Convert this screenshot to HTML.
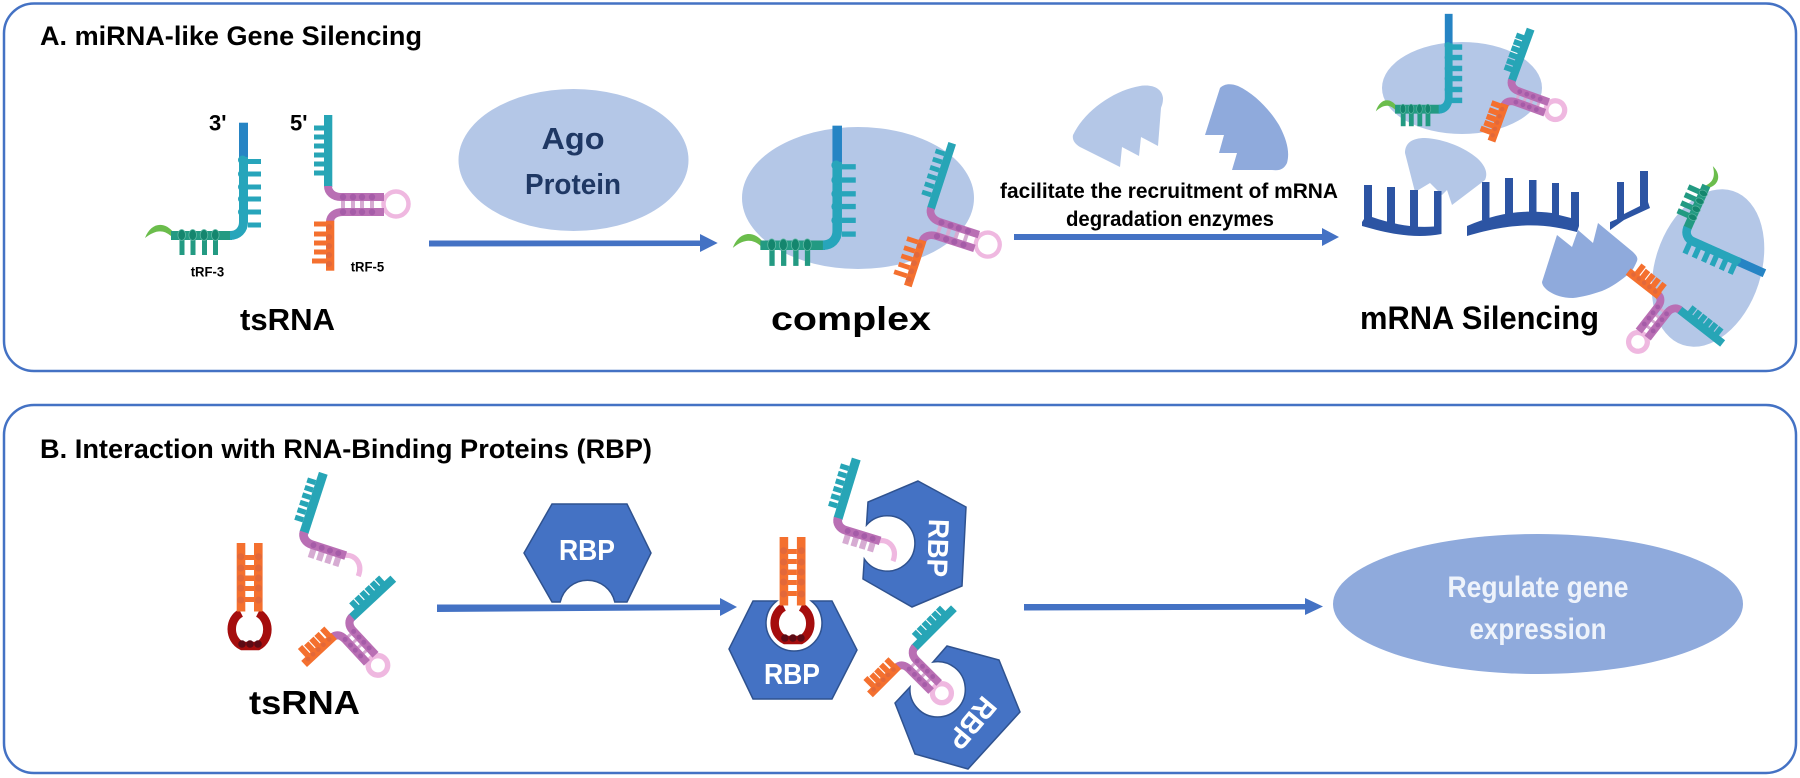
<!DOCTYPE html>
<html><head><meta charset="utf-8"><style>
html,body{margin:0;padding:0;background:#fff}
svg{display:block}
text{font-family:"Liberation Sans",sans-serif;font-weight:bold}
.r{stroke-width:var(--t,0)}
</style></head><body>
<svg width="1800" height="778" viewBox="0 0 1800 778" xmlns="http://www.w3.org/2000/svg">
<defs>
<g id="rf3">
<path d="M145 238C151 222 165 221 174 233L171 236C163 229 155 230 145 238Z" fill="#6bbd4c"/>
<path d="M171 235.5H232" stroke="#239a82" style="stroke-width:calc(9px + var(--t,0px))" fill="none"/>
<g fill="#239a82" stroke="#239a82" class="r"><rect x="179.5" y="240" width="5" height="15"/><rect x="190.5" y="240" width="5" height="15"/><rect x="202" y="240" width="5" height="15"/><rect x="213" y="240" width="5" height="15"/></g>
<g fill="#14866e" stroke="#5fb8a4" stroke-width=".8"><ellipse cx="181.7" cy="235" rx="3.8" ry="5.5"/><ellipse cx="192.7" cy="235" rx="3.8" ry="5.5"/><ellipse cx="204" cy="235" rx="3.8" ry="5.5"/><ellipse cx="215.3" cy="235" rx="3.8" ry="5.5"/></g>
<rect x="239" y="122.7" width="9" height="36" fill="#2684c4" stroke="#2684c4" class="r"/>
<path d="M230 235.5C238 235.5 243.5 230 243.5 222V157" stroke="#27a5bb" style="stroke-width:calc(9px + var(--t,0px))" fill="none"/>
<g fill="#27a5bb" stroke="#27a5bb" class="r"><rect x="248" y="159" width="13" height="5"/><rect x="248" y="171.5" width="13" height="5"/><rect x="248" y="184.5" width="13" height="5"/><rect x="248" y="196.5" width="13" height="5"/><rect x="248" y="209.5" width="13" height="5"/><rect x="248" y="222.5" width="13" height="5"/></g>
<g fill="#27a5bb"><circle cx="242.5" cy="160" r="4.5"/><circle cx="242.5" cy="174" r="4.5"/><circle cx="242.5" cy="187" r="4.5"/><circle cx="242.5" cy="199" r="4.5"/><circle cx="242.5" cy="212" r="4.5"/></g>
</g>
<g id="rf5">
<rect x="324" y="115" width="8.3" height="72" fill="#27a5b6" stroke="#27a5b6" class="r"/>
<g fill="#27a5b6" stroke="#27a5b6" class="r"><rect x="314" y="125.5" width="10" height="5"/><rect x="314" y="134.5" width="10" height="5"/><rect x="314" y="143.5" width="10" height="5"/><rect x="314" y="152.5" width="10" height="5"/><rect x="314" y="161.5" width="10" height="5"/><rect x="314" y="170.5" width="10" height="5"/></g>
<circle cx="396" cy="204" r="12.5" fill="none" stroke="#efb8e0" style="stroke-width:calc(4.5px + var(--t,0px))"/>
<g fill="#d6abd2"><rect x="341" y="200" width="4" height="9"/><rect x="351" y="200" width="4" height="9"/><rect x="360" y="200" width="4" height="9"/><rect x="370" y="200" width="4" height="9"/></g>
<path d="M328 186C328 192 333 197 341 197H384M330 222C330 216 335 212 343 212H384" stroke="#b96fb4" style="stroke-width:calc(8px + var(--t,0px))" fill="none"/>
<g fill="#a55ca8"><circle cx="343" cy="197" r="3.2"/><circle cx="353" cy="197" r="3.2"/><circle cx="362" cy="197" r="3.2"/><circle cx="372" cy="197" r="3.2"/><circle cx="343" cy="212" r="3.2"/><circle cx="353" cy="212" r="3.2"/><circle cx="362" cy="212" r="3.2"/><circle cx="372" cy="212" r="3.2"/></g>
<rect x="326" y="220.7" width="8.3" height="50" fill="#f4702f" stroke="#f4702f" class="r"/>
<g fill="#f4702f" stroke="#f4702f" class="r"><rect x="314" y="221.5" width="12" height="5"/><rect x="314" y="231.5" width="12" height="5"/><rect x="314" y="240.5" width="12" height="5"/><rect x="314" y="249.5" width="12" height="5"/><rect x="312" y="258.5" width="14" height="5"/></g>
<g fill="#e2683a"><circle cx="329" cy="227" r="3"/><circle cx="329" cy="237" r="3"/><circle cx="329" cy="246" r="3"/><circle cx="329" cy="255" r="3"/><circle cx="329" cy="264" r="3"/></g>
</g>
<g id="half">
<rect x="323" y="115" width="10.5" height="72" fill="#27a5b6"/>
<g fill="#27a5b6"><rect x="313" y="125" width="10" height="6"/><rect x="313" y="134" width="10" height="6"/><rect x="313" y="143" width="10" height="6"/><rect x="313" y="152" width="10" height="6"/><rect x="313" y="161" width="10" height="6"/><rect x="313" y="170" width="10" height="6"/></g>
<path d="M381 197C392 192 404 200 403 215" fill="none" stroke="#efb8e0" stroke-width="6"/>
<g fill="#d6abd2"><rect x="341" y="200" width="7" height="12"/><rect x="351" y="200" width="7" height="12"/><rect x="361" y="200" width="7" height="12"/><rect x="371" y="200" width="7" height="12"/></g>
<path d="M328 186C328 192 333 197 341 197H382" stroke="#b96fb4" stroke-width="10" fill="none"/>
<g fill="#a55ca8"><circle cx="343" cy="197" r="3.4"/><circle cx="353" cy="197" r="3.4"/><circle cx="363" cy="197" r="3.4"/><circle cx="373" cy="197" r="3.4"/></g>
</g>
<g id="trna">
<path d="M241 613C229 619 228 639 242 646L258 646C271 639 270 619 258 613" fill="none" stroke="#a50d0d" stroke-width="8.5"/>
<g fill="#5c0a14"><circle cx="242" cy="644" r="3.8"/><circle cx="250" cy="644" r="3.8"/><circle cx="258" cy="644" r="3.8"/></g>
<g fill="#f4702f"><rect x="236.7" y="543" width="8.6" height="68.5"/><rect x="254" y="543" width="8.6" height="68.5"/><rect x="245" y="555" width="9" height="5"/><rect x="245" y="565" width="9" height="5"/><rect x="245" y="575.5" width="9" height="5.5"/><rect x="245" y="586" width="9" height="5"/><rect x="245" y="597" width="9" height="5"/></g>
<g fill="#e2683a"><circle cx="240.7" cy="556.7" r="3.5"/><circle cx="240.7" cy="568" r="3.5"/><circle cx="240.7" cy="578" r="3.5"/><circle cx="240.7" cy="588" r="3.5"/><circle cx="240.7" cy="600" r="3.5"/><circle cx="258.5" cy="556.7" r="3.5"/><circle cx="258.5" cy="568" r="3.5"/><circle cx="258.5" cy="578" r="3.5"/><circle cx="258.5" cy="588" r="3.5"/><circle cx="258.5" cy="600" r="3.5"/></g>
</g>
</defs>

<rect x="4" y="3.5" width="1792" height="367.5" rx="30" fill="#fff" stroke="#4472c4" stroke-width="2.5"/>
<rect x="4" y="405" width="1792" height="368" rx="30" fill="#fff" stroke="#4472c4" stroke-width="2.5"/>

<text x="40" y="45" font-size="27" textLength="382" lengthAdjust="spacingAndGlyphs">A. miRNA-like Gene Silencing</text>
<text x="40" y="458" font-size="27" textLength="612" lengthAdjust="spacingAndGlyphs">B. Interaction with RNA-Binding Proteins (RBP)</text>

<!-- A left -->
<use href="#rf3"/>
<use href="#rf5"/>
<text x="209" y="130.7" font-size="22">3'</text>
<text x="290" y="130.7" font-size="22">5'</text>
<text x="190.7" y="276.7" font-size="13.5" textLength="33.5" lengthAdjust="spacingAndGlyphs">tRF-3</text>
<text x="350.7" y="271.7" font-size="13.5" textLength="33.5" lengthAdjust="spacingAndGlyphs">tRF-5</text>
<text x="240" y="330" font-size="31" textLength="95" lengthAdjust="spacingAndGlyphs">tsRNA</text>

<ellipse cx="573.5" cy="160" rx="115" ry="71" fill="#b4c7e7"/>
<text x="573" y="149" font-size="31" text-anchor="middle" fill="#1f3864" textLength="63" lengthAdjust="spacingAndGlyphs">Ago</text>
<text x="573" y="194" font-size="29" text-anchor="middle" fill="#1f3864" textLength="96" lengthAdjust="spacingAndGlyphs">Protein</text>

<path d="M429 240.5H700V234L717.7 243L700 252V246L429 246.5Z" fill="#4472c4"/>

<ellipse cx="858" cy="198" rx="116" ry="71" fill="#b4c7e7"/>
<use href="#rf3" transform="translate(579.1 -4.4) scale(1.06)"/>
<use href="#rf5" transform="translate(931 208) rotate(18) scale(.96) translate(-328 -186)"/>
<text x="771" y="330" font-size="33" textLength="160" lengthAdjust="spacingAndGlyphs">complex</text>

<path d="M1073 135C1085 110 1115 90 1140 86C1152 84 1162 88 1163 98C1163 103 1162 105 1161 108L1158 146L1141 137L1139 156L1122 147L1120 167L1080 147C1075 144 1072 140 1073 135Z" fill="#b4c7e7"/>
<path d="M1220 88C1224 84 1230 83 1238 86C1255 94 1270 110 1279 125C1287 140 1290 152 1287 163C1284 169 1280 171 1272 170L1232 170L1237 153L1219 153L1224 135L1205 135Z" fill="#8faadc"/>

<text x="1000" y="198" font-size="21" textLength="338" lengthAdjust="spacingAndGlyphs">facilitate the recruitment of mRNA</text>
<text x="1066" y="226" font-size="21" textLength="208" lengthAdjust="spacingAndGlyphs">degradation enzymes</text>
<path d="M1014 234H1322V228L1339 237L1322 246V240L1014 240Z" fill="#4472c4"/>

<!-- A right -->
<ellipse cx="1462" cy="88" rx="80" ry="46" fill="#b4c7e7"/>
<use href="#rf3" style="--t:1.5px" transform="translate(1268.5 -88.6) scale(.74 .84)"/>
<use href="#rf5" style="--t:2.5px" transform="translate(1512 80) rotate(20) scale(.75) translate(-328 -186)"/>

<path d="M1405 153C1405 143 1412 138 1425 138C1445 139 1465 148 1477 158C1486 166 1488 174 1485 180L1452 205L1447 190L1442 195L1430 183L1415 192Z" fill="#b4c7e7"/>
<g fill="#2c54a3">
<path d="M1364 185H1372V217C1395 225 1415 228 1434 226.5V191H1441.5V234C1415 239 1390 234 1362 226V222L1364 219Z"/>
<rect x="1387" y="187" width="8" height="40"/><rect x="1410" y="190" width="8" height="42"/>
<path d="M1467 226C1495 214 1520 209 1552 213V183H1559V215L1571 218V192H1579V226L1577 232C1550 225 1520 220 1467 236Z"/>
<rect x="1482" y="182" width="7.5" height="38"/><rect x="1505" y="178" width="8" height="40"/><rect x="1529" y="180" width="7.5" height="36"/>
<path d="M1610 222L1617 219V182H1624V214L1640 206V171H1648V202L1650 208L1624 220L1610 230Z"/>
</g>
<path d="M1557 235L1572 247L1578 230L1593 243L1598 223L1633 252C1637 256 1638 258 1637 261C1634 268 1632 271 1630 273C1620 281 1612 287 1602 291C1590 295 1582 297 1573 298C1562 298 1555 295 1550 292C1545 289 1542 285 1542 282Z" fill="#8faadc"/>
<ellipse cx="1708" cy="268" rx="53" ry="81" transform="rotate(18 1708 268)" fill="#b4c7e7"/>
<use href="#rf3" style="--t:2px" transform="translate(1683 237) rotate(114) scale(.78) translate(-243.5 -236)"/>
<use href="#rf5" style="--t:2.5px" transform="translate(1680 310) rotate(128) scale(.75) translate(-328 -186)"/>
<text x="1360" y="329" font-size="32" textLength="239" lengthAdjust="spacingAndGlyphs">mRNA Silencing</text>

<!-- B -->
<use href="#trna"/>
<use href="#half" transform="translate(304 532) rotate(18) scale(.87) translate(-328 -186)"/>
<use href="#rf5" style="--t:2.5px" transform="translate(352 617) rotate(47) scale(.78) translate(-328 -186)"/>
<text x="249" y="714" font-size="33" textLength="111" lengthAdjust="spacingAndGlyphs">tsRNA</text>

<path d="M552 504H627L651 553L627 602H614.8A28 28 0 0 0 560.2 602H552L524 553Z" fill="#4472c4" stroke="#2f528f" stroke-width="1.5"/>
<text x="587" y="560" font-size="29" text-anchor="middle" fill="#fff" textLength="56" lengthAdjust="spacingAndGlyphs">RBP</text>
<path d="M437 604.5H720V598L737 607L720 616V610L437 612Z" fill="#4472c4"/>

<path d="M753 601H776.7A28 28 0 1 0 811.3 601H832L857 650L832 699H753L729 649Z" fill="#4472c4" stroke="#2f528f" stroke-width="1.5"/>
<use href="#trna" transform="translate(542.9 -6)"/>
<text x="792" y="684" font-size="29" text-anchor="middle" fill="#fff" textLength="56" lengthAdjust="spacingAndGlyphs">RBP</text>

<path d="M918 481L966 507L962 586L912 607L863 579L864.3 559A27.7 27.7 0 1 0 866.5 525L868 502Z" fill="#4472c4" stroke="#2f528f" stroke-width="1.5"/>
<text transform="translate(938 548) rotate(92)" y="10" font-size="29" text-anchor="middle" fill="#fff" textLength="58" lengthAdjust="spacingAndGlyphs">RBP</text>
<use href="#half" transform="translate(838 518) rotate(17) scale(.87) translate(-328 -186)"/>

<path d="M947 646L999 660L1020 712L968 769L915 754L895 703L910 687A27.7 27.7 0 1 0 933 662Z" fill="#4472c4" stroke="#2f528f" stroke-width="1.5"/>
<text transform="translate(972 723) rotate(130)" y="10" font-size="29" text-anchor="middle" fill="#fff" textLength="58" lengthAdjust="spacingAndGlyphs">RBP</text>
<use href="#rf5" style="--t:2.5px" transform="translate(915 647) rotate(45) scale(.76) translate(-328 -186)"/>

<path d="M1024 604H1305V598L1323 606.5L1305 615V609.5L1024 610.5Z" fill="#4472c4"/>
<ellipse cx="1538" cy="604" rx="205" ry="70" fill="#8faadc"/>
<text x="1538" y="597" font-size="30" text-anchor="middle" fill="#eef3fb" textLength="181" lengthAdjust="spacingAndGlyphs">Regulate gene</text>
<text x="1538" y="639" font-size="30" text-anchor="middle" fill="#eef3fb" textLength="137" lengthAdjust="spacingAndGlyphs">expression</text>
</svg>
</body></html>
